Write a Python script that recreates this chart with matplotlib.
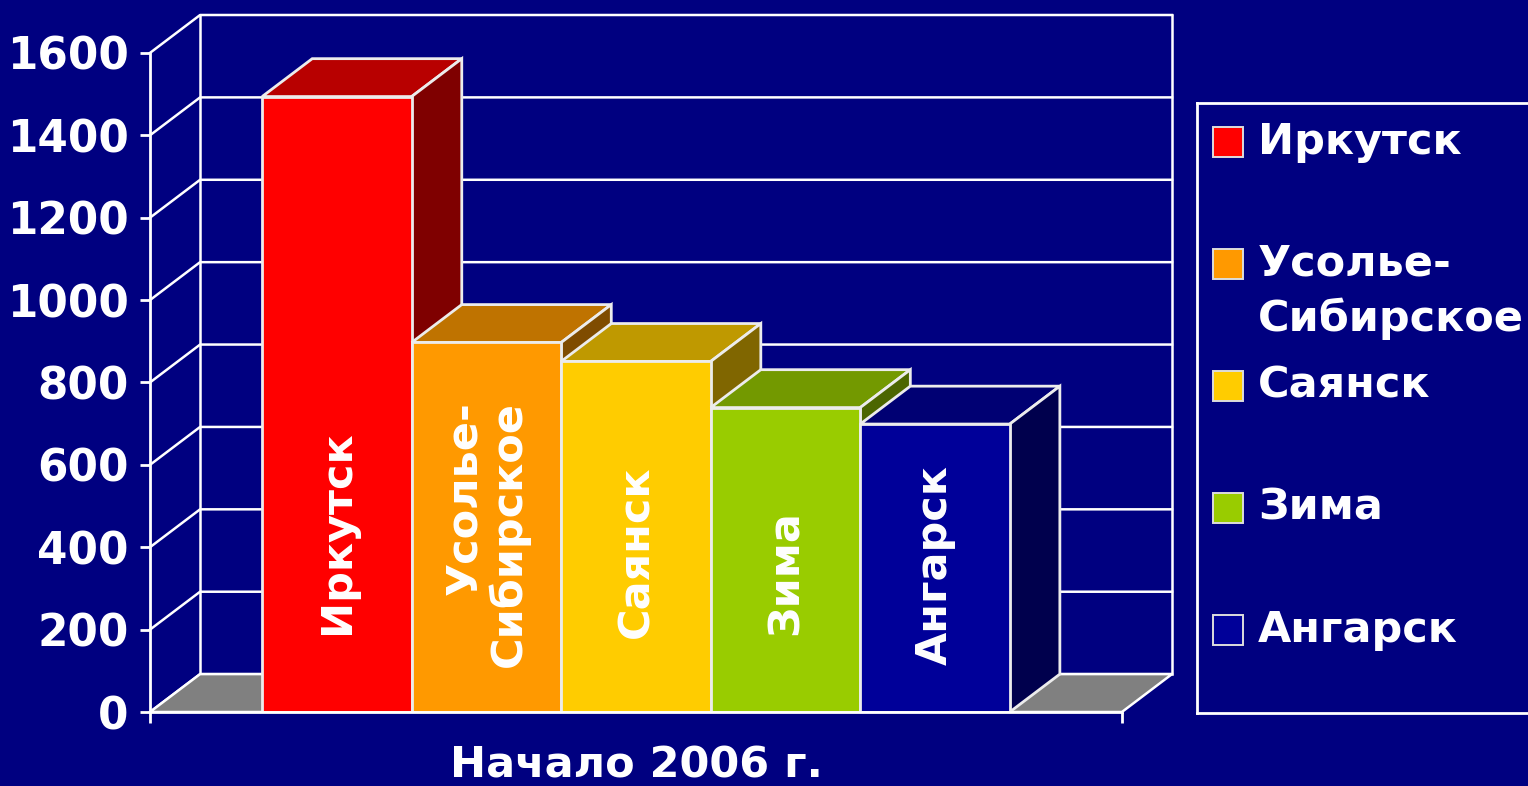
import matplotlib.pyplot as plt
from matplotlib.patches import Polygon, Rectangle
import matplotlib.transforms as mtransforms

# Data
cities = ['Иркутск', 'Усолье-\nСибирское', 'Саянск', 'Зима', 'Ангарск']
values = [1494, 897, 851, 739, 699]
yticks = [0, 200, 400, 600, 800, 1000, 1200, 1400, 1600]
xlabel = 'Начало 2006 г.'

# Colours: front, top, side
front_colors = ['#ff0000', '#ff9900', '#ffcc00', '#99cc00', '#000099']
top_colors = ['#b80000', '#bf7300', '#bf9900', '#739900', '#000073']
side_colors = ['#7f0000', '#7f4c00', '#806600', '#4c6600', '#00004d']
label_y = [437, 432, 389, 338, 357]  # centre of the rotated labels

bg = '#000080'
plt.rcParams['font.family'] = ['DejaVu Sans']
plt.rcParams['font.weight'] = 'bold'

W, H = 1528, 786
fig = plt.figure(figsize=(W / 100, H / 100), dpi=100)
fig.patch.set_facecolor(bg)

# main axes (front plane + depth)
ax = fig.add_axes([150 / W, (H - 712) / H, 1022 / W, 697 / H])
ax.set_facecolor(bg)
x0, x1 = -1.25, 5.25
ddx, ddy = 0.335, 92  # depth offset in data units
ax.set_xlim(x0, x1 + ddx)
ax.set_ylim(0, 1600 + ddy)

for s in ['top', 'right']:
    ax.spines[s].set_visible(False)
ax.spines['left'].set_bounds(0, 1600)
ax.spines['bottom'].set_bounds(x0, x1)
for s in ['left', 'bottom']:
    ax.spines[s].set_color('white')
    ax.spines[s].set_linewidth(2)
    ax.spines[s].set_zorder(10)

ax.set_yticks(yticks)
ax.set_yticklabels([str(t) for t in yticks])
ax.tick_params(axis='y', colors='white', length=7.5, width=2, pad=8,
               labelsize=31.5)
ax.set_xticks([x0, x1])
ax.set_xticklabels(['', ''])
ax.tick_params(axis='x', colors='white', length=8, width=2)

lw = 1.8
# back wall grid + side wall diagonals
for t in yticks:
    ax.plot([x0, x0 + ddx, x1 + ddx], [t, t + ddy, t + ddy], color='white',
            lw=lw, clip_on=False, zorder=1)
for xx in [x0 + ddx, x1 + ddx]:
    ax.plot([xx, xx], [ddy, 1600 + ddy], color='white', lw=lw,
            clip_on=False, zorder=1)

# floor
ax.add_patch(Polygon([(x0, 0), (x1, 0), (x1 + ddx, ddy), (x0 + ddx, ddy)],
                     closed=True, facecolor='#808080', edgecolor='white',
                     lw=lw, zorder=2))

# bars
for i, v in enumerate(values):
    l, r = i - 0.5, i + 0.5
    ax.add_patch(Polygon([(l, v), (r, v), (r + ddx, v + ddy), (l + ddx, v + ddy)],
                         closed=True, facecolor=top_colors[i],
                         edgecolor='#ececec', lw=2, zorder=3 + i))
    ax.add_patch(Polygon([(r, 0), (r + ddx, ddy), (r + ddx, v + ddy), (r, v)],
                         closed=True, facecolor=side_colors[i],
                         edgecolor='#ececec', lw=2, zorder=3 + i))
    ax.add_patch(Rectangle((l, 0), 1, v, facecolor=front_colors[i],
                           edgecolor='#ececec', lw=2, zorder=3 + i))
    ax.text(i, label_y[i], cities[i], rotation=90, ha='center', va='center',
            multialignment='right', color='white', fontsize=31,
            fontweight='bold', linespacing=1.05, zorder=20)

# x label under the front axis
trans = mtransforms.blended_transform_factory(ax.transData, fig.transFigure)
ax.text((x0 + x1) / 2, (H - 765) / H, xlabel, transform=trans, ha='center',
        va='center', color='white', fontsize=31, fontweight='bold')

# legend box
lax = fig.add_axes([1197 / W, (H - 713) / H, 400 / W, 610 / H])
lax.set_facecolor(bg)
lax.set_xlim(0, 400)
lax.set_ylim(610, 0)
lax.set_xticks([])
lax.set_yticks([])
for s in lax.spines.values():
    s.set_color('white')
    s.set_linewidth(2)

for i, name in enumerate(cities):
    yc = 39 + 122 * i
    lax.add_patch(Rectangle((16, yc - 15), 30, 30, facecolor=front_colors[i],
                            edgecolor='#dddddd', lw=1.4))
    for j, line in enumerate(name.split('\n')):
        lax.text(61, yc + 55 * j, line, ha='left', va='center', color='white',
                 fontsize=31, fontweight='bold')

fig.savefig('out.png', dpi=100, facecolor=bg)
